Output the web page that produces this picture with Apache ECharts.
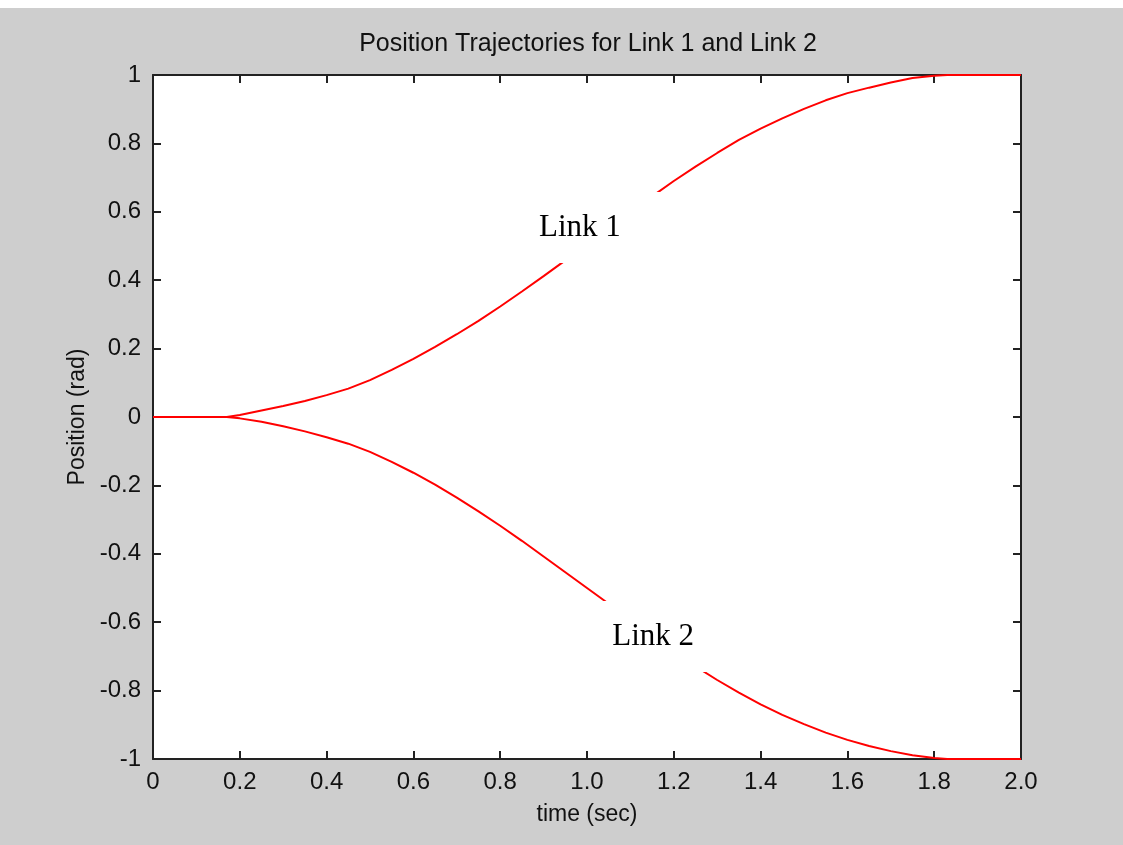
<!DOCTYPE html>
<html>
<head>
<meta charset="utf-8">
<script src="https://cdn.jsdelivr.net/npm/echarts@6/dist/echarts.min.js"></script>
<style>
  html, body { margin: 0; padding: 0; background: #ffffff; }
  #chart { width: 1123px; height: 845px; }
</style>
</head>
<body>
<div id="chart"></div>
<script>
// time samples (sec)
const timeSec = [0, 0.17, 0.2, 0.25, 0.3, 0.35, 0.4, 0.45, 0.5, 0.55, 0.6, 0.65, 0.7, 0.75, 0.8, 0.85, 0.9, 0.95, 1.0,
  1.05, 1.1, 1.15, 1.2, 1.25, 1.3, 1.35, 1.4, 1.45, 1.5, 1.55, 1.6, 1.65, 1.7, 1.75, 1.8, 1.83, 2.0];
// link positions (rad)
const link1 = [0, 0, 0.006, 0.019, 0.032, 0.047, 0.064, 0.083, 0.108, 0.138, 0.170, 0.205, 0.242, 0.281, 0.323, 0.367, 0.412, 0.458, 0.503,
  0.549, 0.595, 0.645, 0.690, 0.732, 0.772, 0.810, 0.843, 0.873, 0.901, 0.926, 0.947, 0.963, 0.978, 0.991, 0.998, 1, 1];
const link2 = [0, 0, -0.004, -0.014, -0.027, -0.042, -0.059, -0.078, -0.102, -0.131, -0.163, -0.198, -0.236, -0.276, -0.318, -0.362, -0.408, -0.454, -0.5,
  -0.546, -0.592, -0.640, -0.686, -0.729, -0.769, -0.806, -0.840, -0.871, -0.898, -0.923, -0.944, -0.962, -0.977, -0.989, -0.997, -1, -1];
const xTickLabels = ['0', '0.2', '0.4', '0.6', '0.8', '1.0', '1.2', '1.4', '1.6', '1.8', '2.0'];

const font = 'Liberation Sans, Arial, sans-serif';
const axisColor = '#222222';

function pairs(ys) {
  return timeSec.map((t, i) => [t, ys[i]]);
}

// text box over the curve (white background like the original)
function linkLabel(text, coord) {
  return {
    symbol: 'rect',
    symbolSize: 1,
    silent: true,
    z: 10,
    data: [{ coord: coord, value: text }],
    itemStyle: { color: '#ffffff' },
    label: {
      show: true,
      position: 'inside',
      formatter: text,
      color: '#000000',
      fontFamily: 'Liberation Serif, Times New Roman, serif',
      fontSize: 31,
      lineHeight: 31,
      backgroundColor: '#ffffff',
      padding: [17, 44, 23, 21]
    }
  };
}

// shared axis look: box with inward ticks on all four sides
const line = { show: true, onZero: false, lineStyle: { color: axisColor, width: 2 } };
const tick = { show: true, inside: true, length: 8, lineStyle: { color: axisColor, width: 2 } };

const chart = echarts.init(document.getElementById('chart'));
chart.setOption({
  backgroundColor: '#cecece',
  animation: false,
  title: {
    text: 'Position Trajectories for Link 1 and Link 2',
    left: 583,
    top: 27,
    textAlign: 'center',
    textStyle: { fontFamily: font, fontSize: 25, fontWeight: 'normal', color: '#111111' }
  },
  graphic: [
    { type: 'rect', left: 0, top: 0, shape: { width: 1123, height: 8 }, style: { fill: '#ffffff' } }
  ],
  grid: {
    left: 153, right: 102, top: 75, bottom: 86,
    show: true, backgroundColor: '#ffffff', borderWidth: 0
  },
  xAxis: [
    {
      type: 'value', min: 0, max: 2, interval: 0.2, position: 'bottom',
      name: 'time (sec)', nameLocation: 'middle', nameGap: 44,
      nameTextStyle: { fontFamily: font, fontSize: 23, color: '#111111' },
      axisLine: line,
      axisTick: tick,
      splitLine: { show: false },
      axisLabel: {
        margin: 11, fontFamily: font, fontSize: 24, color: '#111111',
        formatter: (v) => xTickLabels[Math.round(v / 0.2)]
      }
    },
    {
      type: 'value', min: 0, max: 2, interval: 0.2, position: 'top',
      axisLine: line,
      axisTick: tick,
      axisLabel: { show: false },
      splitLine: { show: false }
    }
  ],
  yAxis: [
    {
      type: 'value', min: -1, max: 1, interval: 0.2, position: 'left',
      name: 'Position (rad)', nameLocation: 'middle', nameGap: 62, nameRotate: 90,
      nameTextStyle: { fontFamily: font, fontSize: 23, color: '#111111' },
      axisLine: line,
      axisTick: tick,
      splitLine: { show: false },
      axisLabel: { margin: 12, fontFamily: font, fontSize: 24, color: '#111111' }
    },
    {
      type: 'value', min: -1, max: 1, interval: 0.2, position: 'right',
      axisLine: line,
      axisTick: tick,
      axisLabel: { show: false },
      splitLine: { show: false }
    }
  ],
  series: [
    {
      name: 'Link 1',
      type: 'line',
      data: pairs(link1),
      showSymbol: false,
      clip: false,
      lineStyle: { color: '#ff0000', width: 2 },
      markPoint: linkLabel('Link 1', [1.01, 0.554])
    },
    {
      name: 'Link 2',
      type: 'line',
      data: pairs(link2),
      showSymbol: false,
      clip: false,
      lineStyle: { color: '#ff0000', width: 2 },
      markPoint: linkLabel('Link 2', [1.179, -0.642])
    }
  ]
});
</script>
</body>
</html>
